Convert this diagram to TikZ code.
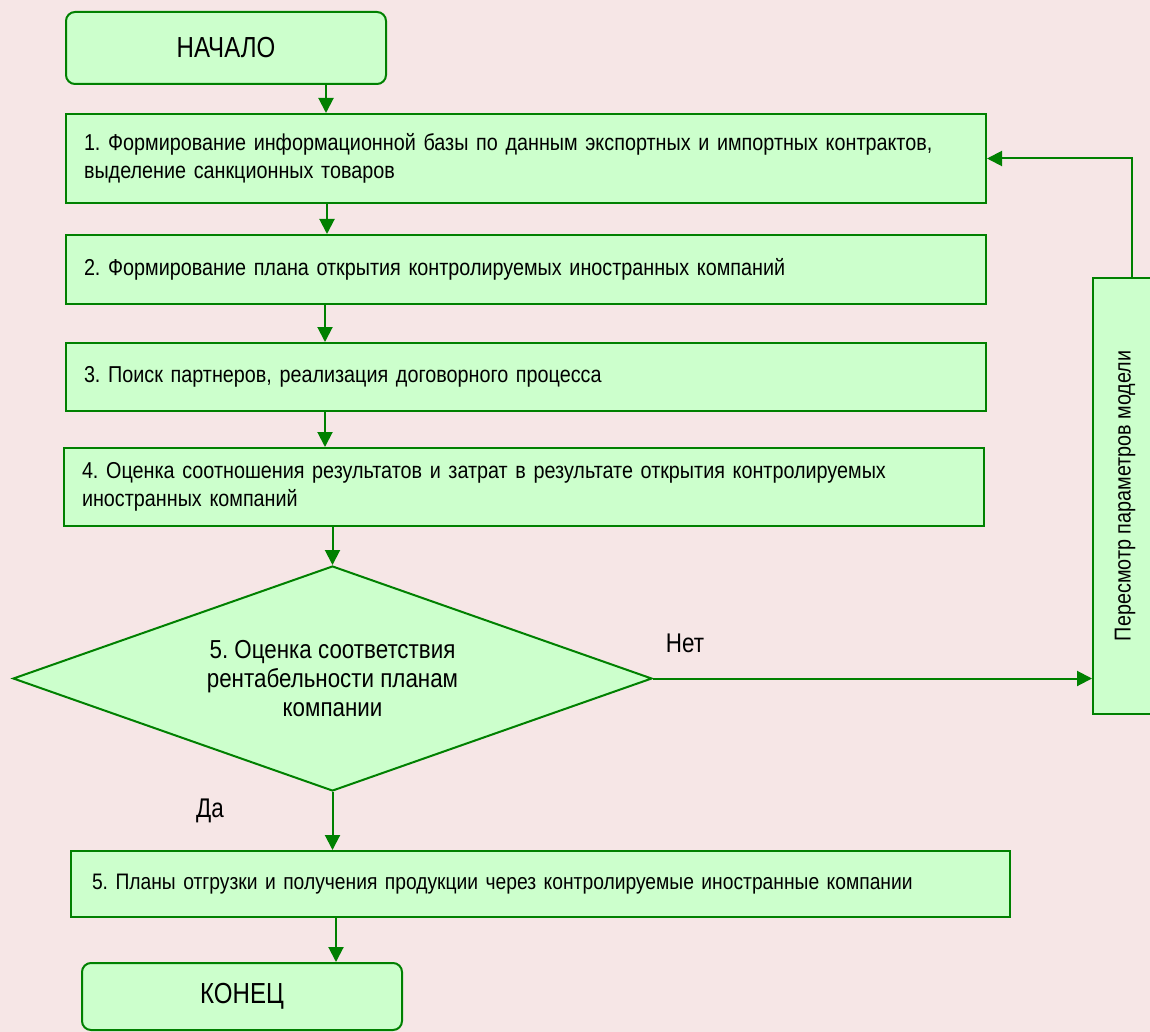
\documentclass[tikz,border=0pt]{standalone}
\usepackage{fontspec}
\setmainfont{Liberation Sans}
\newfontfamily\bodyfont{Liberation Sans}[FakeStretch=0.86]
\newfontfamily\bigfont{Liberation Sans}[FakeStretch=0.83]
\usetikzlibrary{shapes.geometric,arrows.meta}
\AtBeginDocument{\frenchspacing}
\definecolor{bgpink}{HTML}{F6E6E6}
\definecolor{boxfill}{HTML}{CCFFCC}
\definecolor{boxline}{HTML}{008000}
\tikzset{
  stepbox/.style={draw=boxline, fill=boxfill, line width=2pt, rectangle, inner xsep=18pt, inner ysep=0pt, align=left, font=\bodyfont\fontsize{23}{27.5}\selectfont, anchor=center},
  termbox/.style={draw=boxline, fill=boxfill, line width=2pt, rectangle, rounded corners=9pt, inner sep=0pt, minimum width=320pt, font=\bigfont\fontsize{29}{32}\selectfont},
  decbox/.style={draw=boxline, fill=boxfill, line width=2pt, diamond, inner sep=0pt, align=center, font=\bodyfont\fontsize{26}{29}\selectfont},
  arr/.style={draw=boxline, line width=2pt, -{Triangle[width=15pt,length=15pt]}},
  lbl/.style={font=\bigfont\fontsize{27}{30}\selectfont, inner sep=0pt}
}
\begin{document}
\begin{tikzpicture}[x=1pt,y=-1pt]
\fill[bgpink] (0,0) rectangle (1150,1032);
\useasboundingbox (0,0) rectangle (1150,1032);
\begin{scope}
\clip (0,0) rectangle (1150,1032);
\node[termbox, minimum height=72pt] (start) at (226,48) {НАЧАЛО};
\node[stepbox, text width=884pt, minimum height=89pt] (b1) at (526,158.5) {1. Формирование информационной базы по данным экспортных и импортных контрактов,\\выделение санкционных товаров};
\node[stepbox, text width=884pt, minimum height=69pt] (b2) at (526,269.5) {2. Формирование плана открытия контролируемых иностранных компаний};
\node[stepbox, text width=884pt, minimum height=68pt] (b3) at (526,377) {3. Поиск партнеров, реализация договорного процесса};
\node[stepbox, text width=884pt, minimum height=78pt] (b4) at (524,487) {4. Оценка соотношения результатов и затрат в результате открытия контролируемых\\иностранных компаний};
\node[decbox, minimum width=639pt, minimum height=225pt, aspect=2.84] (dec) at (332.5,678.5) {5. Оценка соответствия\\рентабельности планам\\компании};
\node[stepbox, text width=897pt, inner xsep=21pt, minimum height=66pt, font=\bodyfont\fontsize{22.4}{27}\selectfont] (b5) at (540.5,884) {5. Планы отгрузки и получения продукции через контролируемые иностранные компании};
\node[termbox, minimum height=67pt] (end) at (242,996.5) {КОНЕЦ};
\node[draw=boxline, fill=boxfill, line width=2pt, rectangle, minimum width=64pt, minimum height=436pt, inner sep=0pt] (rb) at (1125,496) {};
\node[rotate=90, font=\bodyfont\fontsize{23}{25}\selectfont, inner sep=0pt] (rbt) at (rb.center) {Пересмотр параметров модели};
\end{scope}
\draw[arr] (326,0 |- start.south) -- (326,0 |- b1.north);
\draw[arr] (327,0 |- b1.south) -- (327,0 |- b2.north);
\draw[arr] (325,0 |- b2.south) -- (325,0 |- b3.north);
\draw[arr] (325,0 |- b3.south) -- (325,0 |- b4.north);
\draw[arr] (332.5,0 |- b4.south) -- (dec.north);
\draw[arr] (dec.east) -- (dec.east -| rb.west);
\draw[arr] (dec.south) -- (dec.south |- b5.north);
\draw[arr] (336,0 |- b5.south) -- (336,0 |- end.north);
\draw[arr] (1132,0 |- rb.north) |- (b1.east);
\node[lbl] (no) at (685,643) {Нет};
\node[lbl] (yes) at (210,811) {Да};
\end{tikzpicture}
\end{document}
